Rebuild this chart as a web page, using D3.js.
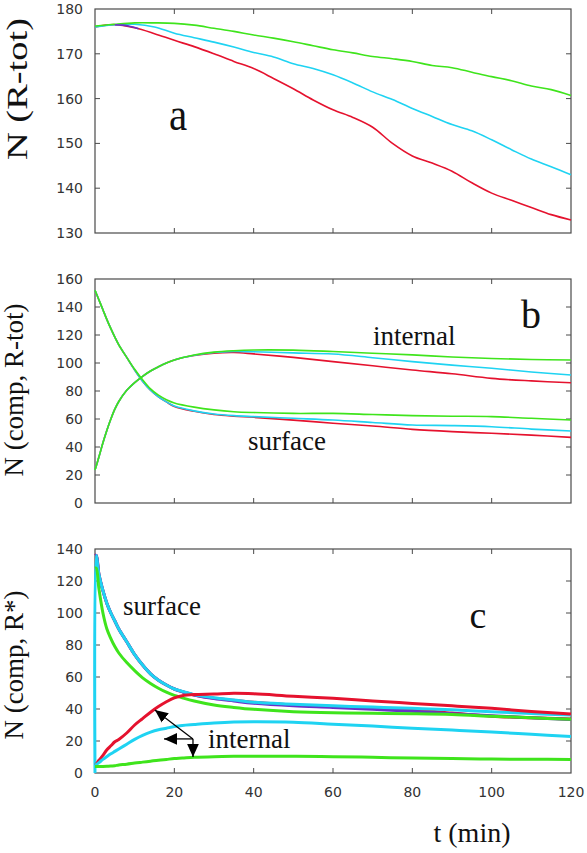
<!DOCTYPE html>
<html><head><meta charset="utf-8">
<script src="https://cdn.jsdelivr.net/npm/d3@7"></script>
<style>body{margin:0;background:#fff}svg{display:block}
.serif{font-family:"Liberation Serif","Times New Roman",Times,serif}
.tick{font-family:"DejaVu Sans",Verdana,sans-serif}
</style>
</head><body>
<script>
// ---------- Data ----------
const tA = [0,5,10,15,20,25,30,35,40,45,50,55,60,65,70,75,80,85,90,95,100,105,110,115,120];
const aGreen = [176.2,176.6,176.9,176.9,176.8,176.4,175.7,175.0,174.2,173.5,172.7,171.8,170.9,170.2,169.4,168.9,168.3,167.4,166.9,165.9,164.9,164.0,162.8,162.0,160.7];
const aCyan  = [176.0,176.5,176.6,176.0,174.6,173.6,172.6,171.5,170.3,169.3,167.8,166.7,165.3,163.5,161.5,159.8,157.8,156.0,154.2,152.8,150.8,148.6,146.5,144.8,143.0];
const aRed   = [176.0,176.5,175.8,174.5,173.0,171.6,170.0,168.3,166.7,164.5,162.2,159.7,157.5,155.8,153.6,150.0,147.2,145.6,143.8,141.2,138.9,137.3,135.7,134.1,132.9];
const tAPurple = [5,7,9,11];
const aPurple  = [176.5,176.4,176.1,175.6];

const tB = [0,1,2,3,4,5,6,8,10,12,14,16,18,20,25,30,35,40,50,60,70,80,90,100,110,120];
const bSurfGreen = [152,145,138,131,124.5,118.5,113,104,95.5,88,81.5,77,73.8,71.5,68.5,66.5,65.2,64.6,64,64,63.2,62.4,62,61.7,60.5,59.3];
const bSurfCyan  = [152,145,138,131,124.5,118.5,113,104,95,87,80.5,75.8,72.2,69.2,65.8,63.6,62.4,61.7,60.5,59.3,57.5,55.7,55.3,54.5,52.8,51.4];
const bSurfRed   = [152,145,138,131,124.5,118.5,113,104,95,87,80.5,75.8,72.2,69,65.5,63.2,62,61.2,59.2,57,55,52.6,51,49.8,48.5,46.9];
const bIntGreen  = [23.5,33,43,52,60,67,72.5,80.5,86,90.5,94.3,97.3,100,102.2,105.7,107.8,108.8,109.3,109.2,108.2,107,105.8,104.3,103.2,102.5,102.1];
const bIntCyan   = [23.5,33,43,52,60,67,72.5,80.5,86,90.5,94.3,97.3,100,102.2,105.5,107.5,108.2,108,107.2,106.4,103.8,101,98.5,96.2,93.6,91.4];
const bIntRed    = [23.5,33,43,52,60,67,72.5,80.5,86,90.5,94.3,97.3,100,102.2,105.3,107,107.5,106.5,104,101,98,95,92.3,89,87.2,85.9];

const tC = [0,0.3,1,2,3,4,5,6,8,10,12,14,16,18,20,22,25,30,35,40,50,60,70,80,90,100,110,120];
const cSurfRed    = [136,136,124,114,106,100,95,90,82,74,67.5,62,58,55,52.5,50.8,48.8,46.8,45.4,44.2,42.5,41.5,40.5,39.5,37.5,35.5,34.5,33.7];
const cSurfPurple = [136,136,124,114,106,100,95,90,82,74,67.5,62,58,55,52.5,50.8,48.8,46.5,45,43.6,42,41,39.8,38.6,37,35.8,34.5,33.5];
const cSurfCyan   = [0,136,124,114,106,100,95,90,82,74,67.5,62,58,55,52.5,51,49,47,45.6,44.2,43,42,41.2,40.4,39.5,38.3,37.2,36.2];
const cSurfGreen  = [128,128,115,100,90,84,79,75,69,64,59.5,56,53,50.5,48.5,47,45,42.5,41,39.8,38.3,37.6,37.3,37,36.5,35.5,34.5,33.6];
const cIntRed     = [5,5.5,8,11,14.5,17,19.5,21,25,30,34,38,41.5,44.5,47,48.3,49,49.3,49.8,49.5,48,46.7,45,43.5,42,40.4,38.5,36.9];
const cIntCyan    = [5,5.3,6.5,8.5,10.3,12,13.5,15,18,21,23.5,25.5,27,28,29,29.7,30.3,31.2,31.8,32,31.7,30.5,29.3,28,26.8,25.6,24.2,22.8];
const cIntGreen   = [4,4,4,4.1,4.2,4.3,4.6,5,5.5,6.2,6.8,7.4,8,8.5,9,9.3,9.8,10.2,10.4,10.5,10.5,10.2,9.8,9.3,9,8.7,8.6,8.5];

const xTicks = [0,20,40,60,80,100,120];
const aTicks = [130,140,150,160,170,180];
const bTicks = [0,20,40,60,80,100,120,140,160];
const cTicks = [0,20,40,60,80,100,120,140];

const GREEN = "#3fe41c", CYAN = "#1fd3f2", RED = "#e5122e", PURPLE = "#6b30c6";

// ---------- Layout ----------
const W = 587, H = 853;
const svg = d3.select("body").append("svg").attr("width", W).attr("height", H);
const x = d3.scaleLinear().domain([0,120]).range([95,571]);

const panels = [
  {y: d3.scaleLinear().domain([130,180]).range([233,9]), ticks: aTicks},
  {y: d3.scaleLinear().domain([0,160]).range([503,279]), ticks: bTicks},
  {y: d3.scaleLinear().domain([0,140]).range([773,549]), ticks: cTicks}
];

const frameColor = "#4a4a4a";

function drawFrame(p, showXLabels) {
  const g = svg.append("g");
  const [y0, y1] = p.y.range();
  const tl = 5;
  xTicks.slice(1, -1).forEach(t => {
    g.append("line").attr("x1", x(t)).attr("x2", x(t)).attr("y1", y0).attr("y2", y0 - tl).attr("stroke", frameColor);
    g.append("line").attr("x1", x(t)).attr("x2", x(t)).attr("y1", y1).attr("y2", y1 + tl).attr("stroke", frameColor);
  });
  p.ticks.slice(1, -1).forEach(v => {
    g.append("line").attr("x1", x(0)).attr("x2", x(0) + tl).attr("y1", p.y(v)).attr("y2", p.y(v)).attr("stroke", frameColor);
    g.append("line").attr("x1", x(120)).attr("x2", x(120) - tl).attr("y1", p.y(v)).attr("y2", p.y(v)).attr("stroke", frameColor);
  });
  g.append("rect").attr("x", x(0)).attr("y", y1).attr("width", x(120) - x(0)).attr("height", y0 - y1)
    .attr("fill", "none").attr("stroke", frameColor).attr("stroke-width", 1.2);
  p.ticks.forEach(v => {
    g.append("text").attr("class", "tick").attr("x", 83).attr("y", p.y(v)).attr("dy", "0.36em").attr("text-anchor", "end")
      .attr("font-size", 14).attr("fill", "#333").text(v);
  });
  if (showXLabels) {
    xTicks.forEach(t => {
      g.append("text").attr("class", "tick").attr("x", x(t)).attr("y", 797).attr("text-anchor", "middle")
        .attr("font-size", 14).attr("fill", "#333").text(t);
    });
  }
}

function drawLine(p, ts, vals, color, width) {
  const line = d3.line().x((d, i) => x(ts[i])).y(d => p.y(d)).curve(d3.curveCatmullRom.alpha(0.5));
  svg.append("path").datum(vals).attr("d", line).attr("fill", "none")
    .attr("stroke", color).attr("stroke-width", width).attr("stroke-linejoin", "round");
}

// ---------- Panel a ----------
drawFrame(panels[0], false);
drawLine(panels[0], tA, aRed, RED, 1.6);
drawLine(panels[0], tA, aCyan, CYAN, 1.6);
drawLine(panels[0], tA, aGreen, GREEN, 1.6);
drawLine(panels[0], tAPurple, aPurple, PURPLE, 1.6);

// ---------- Panel b ----------
drawFrame(panels[1], false);
drawLine(panels[1], tB, bSurfRed, RED, 1.6);
drawLine(panels[1], tB, bIntRed, RED, 1.6);
drawLine(panels[1], tB, bSurfCyan, CYAN, 1.6);
drawLine(panels[1], tB, bIntCyan, CYAN, 1.6);
drawLine(panels[1], tB, bSurfGreen, GREEN, 1.6);
drawLine(panels[1], tB, bIntGreen, GREEN, 1.6);

// ---------- Panel c ----------
drawFrame(panels[2], true);
const cw = 3;
drawLine(panels[2], tC, cSurfRed, RED, cw);
drawLine(panels[2], tC, cSurfPurple, PURPLE, cw);
drawLine(panels[2], tC, cSurfCyan, CYAN, cw);
drawLine(panels[2], tC, cSurfGreen, GREEN, cw);
drawLine(panels[2], tC, cIntRed, RED, cw);
drawLine(panels[2], tC, cIntCyan, CYAN, cw);
drawLine(panels[2], tC, cIntGreen, GREEN, cw);

// ---------- Arrows in panel c ----------
const yc = panels[2].y;
const arrowCenter = {t: 24.7, v: 21.3};
const arrowTips = [{t: 15.1, v: 39.4}, {t: 17.4, v: 21.3}, {t: 24.7, v: 10}];
svg.append("defs").append("marker").attr("id", "ah").attr("viewBox", "0 0 10 10")
  .attr("refX", 10).attr("refY", 5).attr("markerWidth", 13).attr("markerHeight", 13)
  .attr("markerUnits", "userSpaceOnUse").attr("orient", "auto")
  .append("path").attr("d", "M0,0.5 L10,5 L0,9.5 Z").attr("fill", "#000");
arrowTips.forEach(tp => {
  svg.append("line").attr("x1", x(arrowCenter.t)).attr("y1", yc(arrowCenter.v))
    .attr("x2", x(tp.t)).attr("y2", yc(tp.v)).attr("stroke", "#000").attr("stroke-width", 1.3)
    .attr("marker-end", "url(#ah)");
});

// ---------- Texts ----------
function ylabel(txt, bx, cy, size, len) {
  const t = svg.append("text").attr("class", "serif").attr("transform", `translate(${bx},${cy}) rotate(-90)`)
    .attr("text-anchor", "middle").attr("font-size", size).attr("fill", "#111").text(txt);
  if (len) t.attr("textLength", len).attr("lengthAdjust", "spacingAndGlyphs");
}
ylabel("N (R-tot)", 27, 89, 29, 142);
ylabel("N (comp, R-tot)", 23, 390, 27);
ylabel("N (comp, R*)", 23, 665, 27);

function label(txt, xx, yy, size, anchor, sy) {
  svg.append("text").attr("class", "serif").attr("transform", `translate(${xx},${yy}) scale(1,${sy || 1})`)
    .attr("text-anchor", anchor || "start").attr("font-size", size)
    .attr("fill", "#111").text(txt);
}
label("a", 178, 130, 41, "middle", 1.15);
label("b", 531, 328, 40, "middle");
label("c", 478, 628, 38, "middle");
label("internal", 373, 345, 27);
label("surface", 248, 450, 27);
label("surface", 123, 615, 27);
label("internal", 208, 748, 27);
label("t (min)", 472, 842, 28, "middle");
</script>
</body></html>
